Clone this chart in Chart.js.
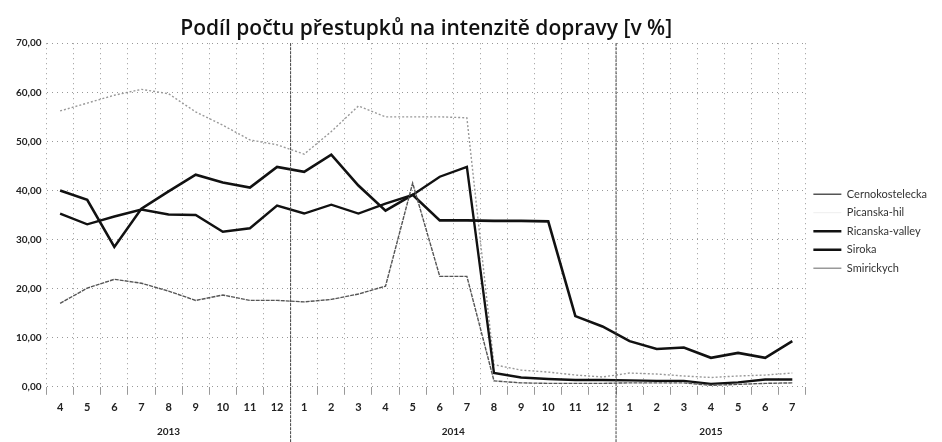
<!DOCTYPE html>
<html>
<head>
<meta charset="utf-8">
<script src="https://cdn.jsdelivr.net/npm/chart.js@4"></script>
<style>
  html, body { margin: 0; padding: 0; background: #fff; }
  #wrap { width: 942px; height: 442px; }
</style>
</head>
<body>
<div id="wrap"><canvas id="chart" width="942" height="442"></canvas></div>
<script>
// months from 4/2013 to 7/2015
const months = ['4','5','6','7','8','9','10','11','12',
                '1','2','3','4','5','6','7','8','9','10','11','12',
                '1','2','3','4','5','6','7'];
const years = [
    { label: '2013', from: 0, to: 8 },
    { label: '2014', from: 9, to: 20 },
    { label: '2015', from: 21, to: 27 }
];

const cernokostelecka = [17.0, 20.1, 21.9, 21.1, 19.5, 17.6, 18.7, 17.6, 17.6,
                         17.3, 17.8, 18.9, 20.5, 41.5, 22.5, 22.5, 1.2, 0.8, 0.7, 0.7, 0.7,
                         0.8, 0.8, 0.8, 0.3, 0.5, 0.7, 0.8];
const picanskaHil = [null, null, null, null, null, null, null, null, null,
                     null, null, null, null, null, null, null, null, null, null, null, null,
                     null, null, null, null, null, null, null];
const ricanskaValley = [40.0, 38.1, 28.5, 36.3, 39.8, 43.2, 41.6, 40.6, 44.8,
                        43.8, 47.3, 41.0, 35.9, 39.1, 33.9, 33.9, 33.8, 33.8, 33.7, 14.4, 12.3,
                        9.3, 7.7, 8.0, 5.9, 6.9, 5.9, 9.3];
const siroka = [35.3, 33.1, 34.7, 36.1, 35.1, 35.0, 31.6, 32.3, 36.9,
                35.3, 37.1, 35.3, 37.3, 39.1, 42.8, 44.8, 2.8, 1.9, 1.6, 1.4, 1.4,
                1.3, 1.2, 1.2, 0.6, 0.9, 1.5, 1.5];
const smirickych = [56.2, 57.8, 59.4, 60.6, 59.7, 56.0, 53.3, 50.3, 49.3,
                    47.4, 52.0, 57.2, 55.0, 55.0, 55.0, 54.8, 4.5, 3.4, 3.0, 2.4, 2.0,
                    2.8, 2.6, 2.2, 1.9, 2.2, 2.4, 2.8];

const yTicks = [0, 10, 20, 30, 40, 50, 60, 70];

// year names under the months + dark separators between years
const yearPlugin = {
    id: 'yearRow',
    afterDraw(chart) {
        const ctx = chart.ctx;
        const x = chart.scales.x;
        const area = chart.chartArea;
        ctx.save();
        ctx.fillStyle = '#222';
        ctx.font = 'bold 10px Lato';
        ctx.textAlign = 'center';
        ctx.textBaseline = 'middle';
        years.forEach(function (y, i) {
            const cx = (x.getPixelForValue(y.from) + x.getPixelForValue(y.to)) / 2;
            ctx.fillText(y.label, cx, area.bottom + 45);
            if (i > 0) {
                const sx = (x.getPixelForValue(y.from - 1) + x.getPixelForValue(y.from)) / 2;
                ctx.strokeStyle = '#444';
                ctx.lineWidth = 1;
                ctx.setLineDash([3, 1]);
                ctx.beginPath();
                ctx.moveTo(sx, area.top);
                ctx.lineTo(sx, chart.height);
                ctx.stroke();
            }
        });
        ctx.restore();
    }
};

new Chart(document.getElementById('chart'), {
    type: 'line',
    data: {
        labels: months,
        datasets: [
            { label: 'Cernokostelecka', data: cernokostelecka, borderColor: '#555', backgroundColor: '#555',
              borderWidth: 1.4, borderDash: [4, 1] },
            { label: 'Picanska-hil', data: picanskaHil, borderColor: '#eee', backgroundColor: '#eee',
              borderWidth: 1 },
            { label: 'Ricanska-valley', data: ricanskaValley, borderColor: '#111', backgroundColor: '#111',
              borderWidth: 2.6 },
            { label: 'Siroka', data: siroka, borderColor: '#111', backgroundColor: '#111',
              borderWidth: 2.4 },
            { label: 'Smirickych', data: smirickych, borderColor: '#999', backgroundColor: '#999',
              borderWidth: 1.4, borderDash: [2, 2] }
        ]
    },
    options: {
        responsive: false,
        animation: false,
        elements: {
            point: { radius: 0 },
            line: { tension: 0 }
        },
        layout: { padding: { left: 11, right: 5, top: 0, bottom: 22 } },
        plugins: {
            title: {
                display: true,
                fullSize: false,
                text: 'Podíl počtu přestupků na intenzitě dopravy [v %]',
                color: '#111',
                font: { family: 'Open Sans', size: 21, weight: '600' },
                padding: { top: 16, bottom: 2 }
            },
            legend: {
                position: 'right',
                align: 'center',
                title: { display: true, text: '', padding: 14 },
                labels: {
                    usePointStyle: true,
                    pointStyle: 'line',
                    pointStyleWidth: 28,
                    color: '#333',
                    font: { family: 'Lato', size: 11 },
                    padding: 7.5
                }
            },
            tooltip: { enabled: false }
        },
        scales: {
            x: {
                offset: true,
                border: { display: false, dash: [1, 4] },
                grid: {
                    offset: true,
                    color: '#999',
                    lineWidth: 1,
                    tickLength: 8
                },
                ticks: {
                    color: '#222',
                    font: { family: 'Lato', size: 11, weight: 'bold' },
                    padding: 6,
                    maxRotation: 0,
                    autoSkip: false
                }
            },
            y: {
                min: 0,
                max: 70,
                border: { display: false, dash: [1, 4] },
                grid: {
                    color: '#999',
                    lineWidth: 1,
                    drawTicks: false
                },
                afterBuildTicks: function (scale) {
                    scale.ticks = yTicks.map(function (v) { return { value: v }; });
                },
                ticks: {
                    color: '#222',
                    font: { family: 'Lato', size: 10, weight: 'bold' },
                    padding: 5,
                    callback: function (v) { return v.toFixed(2).replace('.', ','); }
                }
            }
        }
    },
    plugins: [yearPlugin]
});
</script>
</body>
</html>
